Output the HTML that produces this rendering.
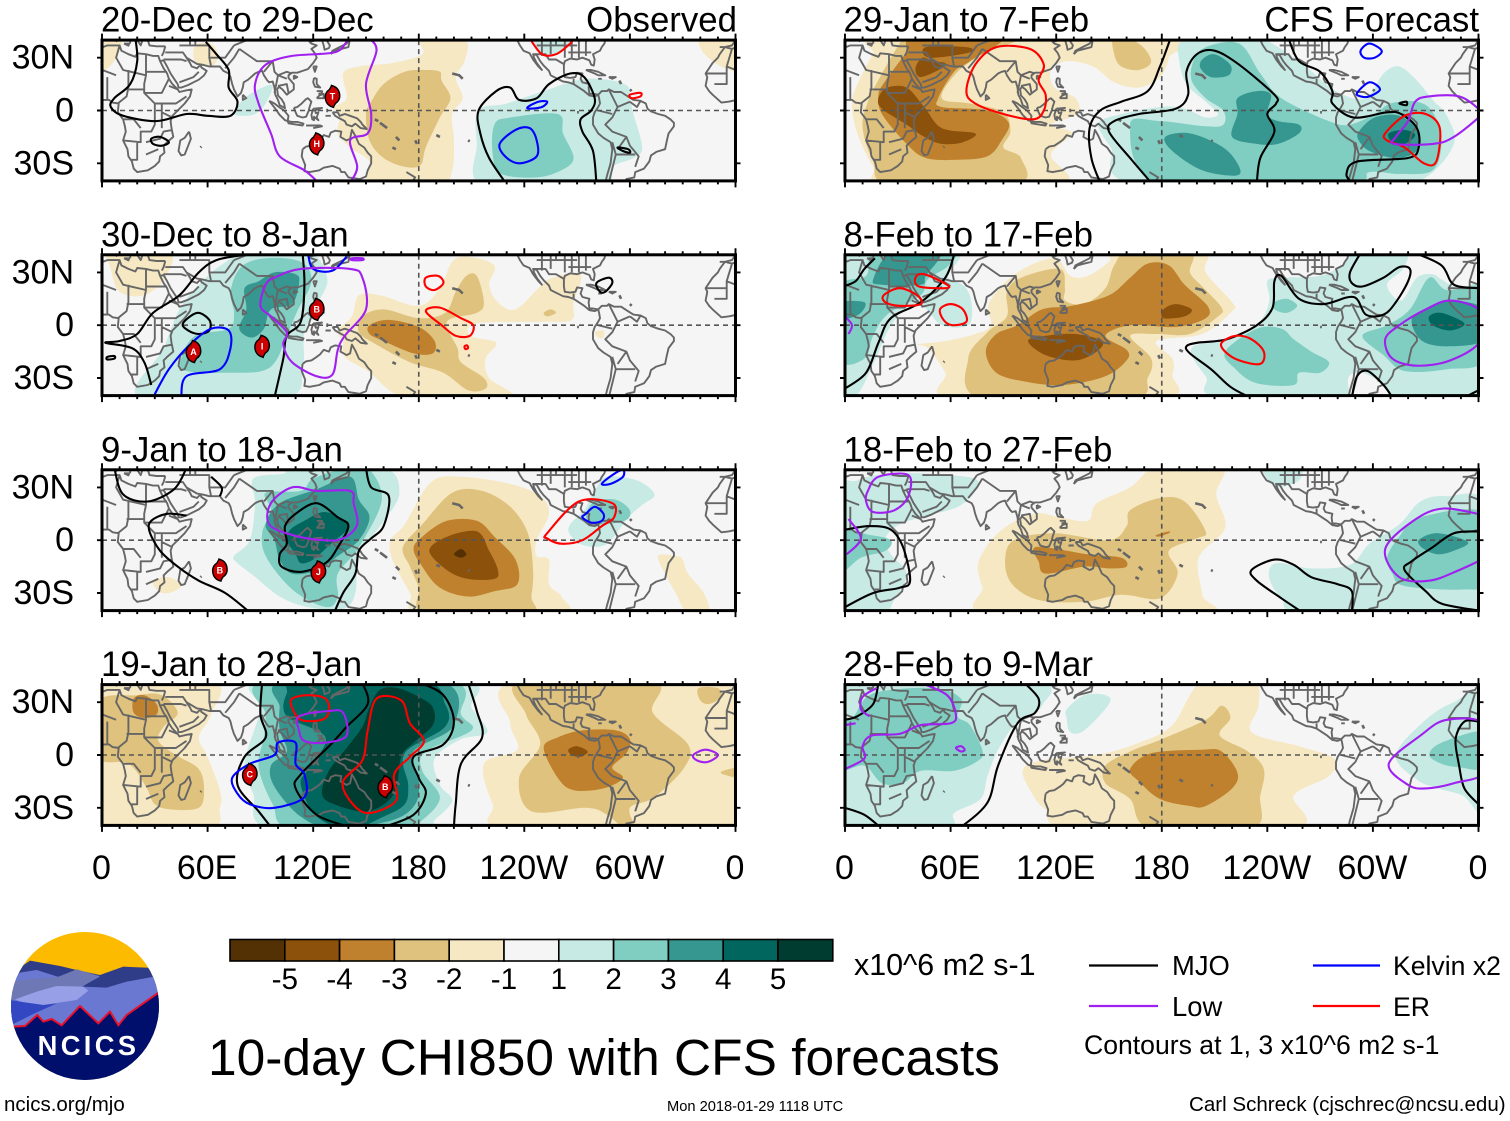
<!DOCTYPE html>
<html lang="en">
<head>
<meta charset="utf-8">
<title>10-day CHI850 with CFS forecasts</title>
<style>
html,body{margin:0;padding:0;background:#fff;}
svg{display:block;font-family:"Liberation Sans",Arial,sans-serif;}
</style>
</head>
<body>
<svg id="chart" xmlns="http://www.w3.org/2000/svg" width="1510" height="1121" viewBox="0 0 1510 1121">
  <rect x="0" y="0" width="1510" height="1121" fill="#ffffff"/>
  <g id="panels"></g>
  <g id="colorbar"></g>
  <text x="854" y="975" font-size="30.4">x10^6 m2 s-1</text>
  <text x="208" y="1075" font-size="51.45">10-day CHI850 with CFS forecasts</text>

  <g>
    <line x1="1089" y1="965.5" x2="1158" y2="965.5" stroke="#000" stroke-width="2.2"/>
    <text x="1172" y="975" font-size="27.4">MJO</text>
    <line x1="1089" y1="1006" x2="1158" y2="1006" stroke="#a020f0" stroke-width="2.2"/>
    <text x="1172" y="1016" font-size="27.4">Low</text>
    <line x1="1313" y1="965.5" x2="1380" y2="965.5" stroke="#0000ff" stroke-width="2.2"/>
    <text x="1393" y="975" font-size="26.6">Kelvin x2</text>
    <line x1="1313" y1="1006" x2="1380" y2="1006" stroke="#ff0000" stroke-width="2.2"/>
    <text x="1393" y="1016" font-size="26.6">ER</text>
    <text x="1084" y="1054" font-size="26.6">Contours at 1, 3 x10^6 m2 s-1</text>
  </g>

  <a><text x="4" y="1111" font-size="20.5">ncics.org/mjo</text></a>
  <text x="667" y="1111" font-size="14.67">Mon 2018-01-29 1118 UTC</text>
  <text x="1189" y="1111" font-size="20.56">Carl Schreck (cjschrec@ncsu.edu)</text>

  <g transform="translate(0,920) scale(0.3333)">
    <defs><clipPath id="logoClip"><circle cx="255" cy="258" r="222"/></clipPath></defs>
    <g clip-path="url(#logoClip)">
      <rect x="20" y="30" width="480" height="460" fill="#fdbb00"/>
      <polygon points="20,170 90,122 180,138 230,150 300,165 370,140 490,145 490,320 20,320" fill="#2f3c88"/>
      <polygon points="20,190 60,158 110,150 180,172 230,148 300,170 245,200 320,203 380,185 490,165 490,500 20,500" fill="#6a78d2"/>
      <polygon points="20,195 60,180 120,175 170,172 230,148 298,168 250,198 150,210 100,225 40,240 20,245" fill="#6e78b4"/>
      <polygon points="45,238 110,215 170,198 250,200 265,212 230,240 130,255 70,248" fill="#97a0e6"/>
      <polygon points="20,238 60,245 130,255 170,250 100,282 40,312 20,320" fill="#3347c2"/>
      <polygon points="20,320 75,318 112,285 130,305 155,297 185,316 240,258 295,310 330,275 355,316 380,285 470,222 500,200 500,500 20,500" fill="#000f6b"/>
      <polyline points="40,320 75,318 112,285 130,305 155,297 185,316 240,258 295,310 330,275 355,316 380,285 470,222 490,205" fill="none" stroke="#e8102a" stroke-width="6"/>
      <text x="113" y="405" font-size="82" font-weight="bold" fill="#ffffff" textLength="295" lengthAdjust="spacing">NCICS</text>
    </g>
  </g>
</svg>
<script>
// ---- Chart values (degrees longitude / latitude, and anomaly levels) ----
const panelTitles = ['20-Dec to 29-Dec','30-Dec to 8-Jan','9-Jan to 18-Jan','19-Jan to 28-Jan','29-Jan to 7-Feb','8-Feb to 17-Feb','18-Feb to 27-Feb','28-Feb to 9-Mar'];
const lonTickValues = [0,60,120,180,240,300,360];
const lonTickLabels = ['0','60E','120E','180','120W','60W','0'];
const latTickValues = [30,0,-30];
const latTickLabels = ['30N','0','30S'];
const colorbarLevels = [-5.5,-4.5,-3.5,-2.5,-1.5,0,1.5,2.5,3.5,4.5,5.5];
const colorbarLabels = ['-5','-4','-3','-2','-1','1','2','3','4','5'];

const p1Fills = [
 [-1,[[182,40],[206,40],[206,28],[201,19],[205,7],[199,-2],[200,-17],[199,-34],[192,-41],[153,-41],[152,-29],[141,-21],[134,-13],[135,-4],[132,2],[139,7],[137,21],[146,25],[165,27],[182,32]]],
 [-1,[[-3,40],[11,40],[8,30],[2,23],[-3,23]]],
 [-1,[[341,42],[341,34],[350,26],[360,22],[364,22],[364,42]]],
 [-1,[[53,37],[62,38],[66,31],[62,25],[53,28]]],
 [-2,[[184,23],[192,22],[193,17],[198,7],[192,-4],[184,-21],[181,-31],[172,-32],[160,-27],[152,-17],[150,-2],[153,5],[160,15],[172,22]]],
 [1,[[214,0],[230,4],[251,11],[275,18],[297,15],[300,7],[302,-2],[307,-21],[302,-27],[290,-32],[283,-43],[217,-43],[213,-19]]],
 [1,[[75,-1],[81,7],[91,13],[97,14],[93,4],[87,-2],[79,-3]]],
 [2,[[223,-8],[232,-4],[259,-2],[262,-13],[268,-27],[261,-34],[247,-38],[227,-36],[222,-25]]],
 [1,[[245,40],[250,33],[258,32],[266,38],[268,42],[245,42]]]
];
const p1Lines = [
 ['M',0,[[59,39],[65,32],[72,23],[72,13],[77,5],[73,-3],[60,-3],[48,-2],[31,-6],[12,-3],[5,2],[7,7],[16,15],[20,28],[19,41]]],
 ['M',1,[[28,-16],[33,-15],[38,-18],[34,-20],[29,-19]]],
 ['M',1,[[293,-21],[299,-22],[300,-24],[296,-23]]],
 ['M',0,[[230,-42],[220,-27],[215,-13],[214,0],[224,11],[232,13],[237,6],[247,7],[254,15],[266,21],[274,19],[280,7],[278,0],[272,-5],[273,-12],[279,-23],[281,-42]]],
 ['L',0,[[123,-41],[115,-34],[101,-26],[96,-13],[89,4],[87,15],[93,26],[108,31],[132,33],[139,39],[141,41]]],
 ['L',0,[[152,41],[156,34],[150,15],[153,-2],[151,-13],[141,-17],[145,-32],[141,-41]]],
 ['K',1,[[226,-19],[235,-11],[243,-10],[247,-17],[247,-26],[237,-30],[229,-26]]],
 ['K',1,[[242,2],[248,5],[253,5],[250,2],[243,1]]],
 ['E',0,[[243,41],[250,32],[258,32],[266,38],[268,41]]],
 ['E',1,[[300,9],[306,10],[306,8],[301,7]]]
];
const p1Storms = [['T',131,8],['H',122,-19]];

const p2Fills = [
 [-1,[[146,17],[158,17],[180,11],[192,21],[199,36],[208,39],[223,34],[220,23],[225,13],[235,9],[249,22],[256,27],[272,29],[268,13],[267,3],[251,2],[213,1],[209,-6],[224,-10],[218,-19],[220,-30],[233,-42],[175,-42],[151,-26],[138,-18],[137,-9],[134,-3],[142,5]]],
 [-1,[[5,42],[38,42],[36,27],[24,17],[10,19],[5,32]]],
 [-1,[[280,-4],[285,-3],[285,-7],[282,-7]]],
 [-2,[[148,5],[160,9],[180,4],[195,7],[201,19],[207,28],[213,28],[217,13],[213,7],[196,2],[202,-13],[204,-21],[217,-30],[218,-36],[208,-37],[194,-27],[175,-21],[156,-11],[146,-4]]],
 [-2,[[251,7],[255,9],[258,7],[253,5]]],
 [-3,[[152,0],[163,3],[180,-1],[189,-9],[188,-16],[177,-16],[160,-9],[152,-5]]],
 [1,[[22,-42],[35,-13],[44,9],[56,24],[69,35],[84,42],[117,42],[128,27],[123,13],[115,-4],[114,-23],[103,-42]]],
 [2,[[73,19],[79,33],[93,38],[113,36],[119,25],[111,8],[105,-6],[99,-20],[91,-26],[74,-27],[48,-26],[45,-19],[53,-6],[72,-2],[75,7]]],
 [3,[[81,21],[89,25],[98,30],[110,29],[112,24],[108,12],[96,9],[92,-2],[85,-7],[78,-2],[82,9]]]
];
const p2Lines = [
 ['M',0,[[114,41],[115,23],[113,2],[105,-6],[103,-19],[98,-41]]],
 ['M',0,[[81,40],[65,37],[55,30],[44,17],[29,7],[20,-5],[10,-9],[2,-10],[17,-13],[24,-21],[28,-34]]],
 ['M',1,[[46,1],[54,7],[61,3],[61,-3],[55,-5],[49,-3]]],
 ['M',1,[[3,-18],[7,-17.5],[7,-19],[3,-19.5]]],
 ['M',1,[[281,24],[288,27],[290,24],[286,19],[283,19]]],
 ['K',0,[[29,-41],[38,-25],[50,-11],[62,-2],[72,-3],[73,-13],[67,-25],[48,-29],[45,-41]]],
 ['K',0,[[117,41],[120,32],[131,31],[139,39]]],
 ['L',1,[[98,27],[113,32],[141,32],[148,27],[150,9],[138,-6],[134,-14],[131,-28],[122,-29],[108,-21],[103,-11],[105,-4],[96,5],[90,11],[93,23]]],
 ['L',1,[[142,38],[148,38],[148,37],[142,37]]],
 ['E',1,[[184,27],[191,28],[194,24],[189,20],[184,22]]],
 ['E',1,[[184,8],[192,10],[204,4],[211,0],[209,-6],[201,-6],[193,0]]],
 ['E',1,[[206,-12],[207.5,-11.5],[208,-13],[206.5,-13.5]]]
];
const p2Storms = [['B',122,9],['I',91,-12],['A',52,-15]];

const p3Fills = [
 [1,[[75,-9],[84,0],[87,21],[86,35],[104,38],[105,42],[158,42],[169,27],[158,8],[146,-8],[144,-30],[137,-39],[117,-38],[101,-32],[86,-20],[77,-13]]],
 [2,[[93,27],[113,28],[120,35],[139,41],[151,41],[159,23],[146,-4],[134,-19],[134,-32],[129,-38],[117,-34],[105,-25],[93,-9],[91,4],[96,17]]],
 [3,[[101,21],[122,29],[141,36],[146,23],[152,13],[146,0],[134,-9],[123,-17],[108,-19],[101,-11],[98,0],[93,9]]],
 [4,[[115,11],[126,16],[137,12],[140,7],[129,-3],[120,-11],[113,-13],[110,-8],[105,0],[107,6]]],
 [1,[[266,9],[274,17],[280,28],[287,36],[304,34],[314,26],[307,20],[299,13],[287,-2],[274,-3],[266,3]]],
 [2,[[280,22],[292,23],[300,17],[297,11],[280,9],[275,14]]],
 [-1,[[164,0],[172,9],[187,33],[204,36],[232,32],[249,25],[254,15],[247,0],[247,-9],[254,-11],[254,-25],[261,-32],[260,-42],[182,-42],[175,-30],[165,-11]]],
 [-2,[[171,-4],[182,9],[199,27],[216,28],[232,19],[242,4],[245,-17],[244,-32],[242,-42],[184,-42],[180,-27],[175,-15]]],
 [-3,[[177,-5],[182,2],[196,11],[213,11],[223,2],[235,-11],[236,-25],[223,-29],[208,-32],[192,-27],[182,-15]]],
 [-4,[[186,-6],[196,2],[213,5],[220,-6],[225,-17],[223,-22],[208,-22],[196,-17]]],
 [-5,[[200,-8],[204,-5],[207,-8],[204,-10]]],
 [-1,[[316,-9],[326,-9],[330,-11],[333,-19],[342,-30],[345,-42],[333,-42],[326,-30],[321,-21]]],
 [-1,[[29,-23],[38,-21],[45,-26],[38,-30],[32,-29]]]
];
const p3Lines = [
 ['M',0,[[84,-41],[70,-30],[55,-23],[43,-15],[33,-6],[27,5],[28,11],[37,15],[48,14]]],
 ['M',0,[[7,41],[12,26],[26,22],[41,29],[48,41]]],
 ['M',0,[[62,36],[68,30],[67,25]]],
 ['M',0,[[150,41],[153,30],[163,25],[160,8],[153,1],[146,-6],[144,-19],[137,-30],[132,-41]]],
 ['M',1,[[110,15],[122,21],[134,13],[140,8],[134,-4],[127,-13],[113,-18],[102,-15],[101,-8],[105,-2],[104,8]]],
 ['L',1,[[96,21],[108,30],[122,28],[141,28],[143,21],[145,9],[137,1],[125,0],[108,3],[95,9]]],
 ['E',1,[[253,4],[271,22],[290,21],[291,13],[284,8],[273,0],[261,-2],[253,1]]],
 ['K',1,[[275,15],[280,19],[285,15],[284,11],[278,10],[273,13]]],
 ['K',1,[[284,32],[290,37],[296,40],[296,36],[289,32]]]
];
const p3Storms = [['B',67,-17],['J',123,-18]];

const p4Fills = [
 [-1,[[-3,42],[63,42],[62,23],[55,10],[60,-1],[67,-20],[67,-30],[60,-42],[-3,-42]]],
 [-2,[[-3,30],[20,34],[34,34],[43,24],[35,16],[32,8],[42,0],[55,-8],[58,-20],[55,-30],[40,-31],[30,-28],[25,-18],[15,-5],[-3,-1]]],
 [-3,[[18,32],[24,34],[31,29],[31,23],[24,21],[18,24]]],
 [-1,[[236,42],[232,18],[236,3],[217,-5],[222,-28],[232,-42],[364,-42],[364,42]]],
 [-2,[[238,42],[241,23],[249,6],[237,-13],[244,-32],[275,-30],[287,-34],[297,-42],[303,-42],[300,-30],[314,-24],[331,-7],[333,6],[313,24],[313,42]]],
 [-2,[[339,38],[350,38],[352,33],[345,29],[340,31]]],
 [-2,[[353,-9],[364,-7],[364,-13],[353,-11]]],
 [-3,[[251,4],[259,10],[273,14],[292,14],[300,9],[298,1],[290,-7],[296,-13],[285,-19],[268,-20],[259,-13]]],
 [-4,[[265,3],[270,5],[276,2],[272,-1],[267,0]]],
 [1,[[81,-5],[90,25],[92,42],[205,42],[210,27],[219,13],[204,9],[189,-2],[192,-17],[199,-26],[189,-37],[182,-42],[96,-42],[86,-22]]],
 [2,[[93,42],[197,42],[204,23],[210,14],[184,2],[182,-9],[192,-24],[182,-37],[170,-42],[108,-42],[97,-28],[89,-7],[92,10],[93,23]]],
 [3,[[101,27],[104,42],[192,42],[200,17],[177,2],[180,-15],[178,-28],[165,-37],[132,-42],[113,-35],[98,-18],[96,-6],[105,2],[101,14]]],
 [4,[[105,35],[113,42],[182,42],[195,29],[195,16],[172,1],[174,-17],[172,-28],[160,-35],[141,-42],[122,-35],[113,-17],[117,-8],[127,10],[105,22]]],
 [5,[[158,37],[168,38],[180,33],[188,27],[188,17],[177,7],[170,-1],[166,-22],[151,-32],[132,-28],[125,-22],[129,-9],[139,4],[148,16],[152,27]]]
];
const p4Lines = [
 ['M',0,[[91,41],[90,23],[93,10],[81,-1],[77,-17],[89,-32],[96,-41]]],
 ['M',0,[[148,41],[151,29],[139,16],[130,6],[113,-11],[110,-19],[122,-34],[141,-41]]],
 ['M',0,[[181,41],[194,34],[200,19],[194,6],[177,-1],[180,-13],[184,-22],[177,-34],[160,-41]]],
 ['M',0,[[208,41],[213,25],[216,10],[204,-5],[201,-28],[200,-41]]],
 ['E',1,[[108,32],[117,34],[127,32],[129,25],[125,20],[113,20],[108,27]]],
 ['L',1,[[112,22],[129,25],[137,24],[139,11],[127,7],[115,8],[112,14]]],
 ['K',1,[[100,7],[110,7],[110,-5],[115,-11],[115,-24],[98,-30],[84,-28],[77,-22],[74,-13],[84,-5],[98,0]]],
 ['E',1,[[156,32],[170,31],[175,18],[183,8],[175,-1],[166,-11],[167,-26],[151,-33],[141,-26],[137,-15],[148,-3],[151,14]]],
 ['L',1,[[336,0],[343,3],[350,0],[344,-4],[338,-3]]]
];
const p4Storms = [['C',84,-11],['B',161,-18]];

const p5Fills = [
 [-1,[[26,42],[184,42],[184,30],[179,19],[167,13],[153,16],[141,25],[126,28],[117,23],[119,13],[131,7],[132,-2],[117,-8],[129,-13],[117,-25],[122,-42],[25,-42],[16,-32],[7,-13],[4,5],[9,19],[16,32]]],
 [-2,[[21,21],[31,38],[35,42],[98,42],[78,32],[63,21],[55,7],[71,4],[90,-1],[94,-12],[90,-21],[100,-27],[97,-42],[26,-42],[16,-29],[10,-10],[13,5]]],
 [-2,[[153,42],[167,38],[174,28],[167,23],[157,25],[153,32]]],
 [-3,[[23,17],[34,32],[40,42],[89,42],[71,28],[62,22],[53,7],[55,2],[81,0],[93,-7],[89,-17],[81,-26],[64,-28],[46,-27],[35,-19],[21,-2],[19,9]]],
 [-4,[[40,24],[44,30],[50,28],[57,27],[55,24],[43,19]]],
 [-4,[[46,36],[69,36],[71,33],[48,30]]],
 [-4,[[19,7],[24,13],[35,13],[45,2],[55,-10],[74,-13],[67,-18],[55,-19],[45,-15],[35,-8],[21,1]]],
 [1,[[191,39],[210,42],[234,42],[258,28],[279,11],[296,7],[306,21],[315,25],[325,17],[334,6],[342,-3],[346,-19],[330,-38],[306,-42],[167,-42],[151,-21],[144,-8],[153,-3],[179,2],[193,1],[205,-4],[212,-2],[205,5],[194,15],[190,28]]],
 [2,[[198,28],[205,36],[224,38],[236,21],[248,7],[275,-6],[287,-8],[301,-2],[310,4],[325,5],[334,-1],[339,-17],[334,-34],[315,-36],[298,-35],[284,-42],[180,-42],[162,-8],[179,-6],[205,-9],[215,-8],[215,0],[205,7],[197,17]]],
 [3,[[203,29],[210,32],[219,26],[218,20],[208,19],[202,24]]],
 [3,[[223,7],[234,11],[242,9],[240,-2],[246,-6],[258,-8],[258,-13],[246,-19],[234,-19],[220,-15],[223,-2]]],
 [3,[[182,-15],[196,-13],[215,-21],[224,-32],[222,-37],[203,-34],[186,-23]]],
 [3,[[292,-12],[301,-4],[315,-3],[326,-12],[325,-23],[313,-27],[298,-23],[292,-17]]],
 [4,[[309,-13],[318,-11],[324,-14],[318,-19],[311,-18]]]
];
const p5Lines = [
 ['M',0,[[185,41],[179,25],[172,11],[157,5],[145,0],[139,-10],[140,-27],[145,-41]]],
 ['M',0,[[174,-41],[162,-27],[150,-12],[153,-6],[167,-2],[188,1],[195,9],[194,22],[200,32],[210,34],[224,26],[244,9],[245,4],[240,-2],[244,-12],[236,-27],[234,-41]]],
 ['M',0,[[252,41],[258,28],[270,22],[277,11],[277,4],[289,-4],[308,-1],[316,-2],[325,-10],[326,-21],[320,-27],[291,-29],[285,-36],[288,-41]]],
 ['M',1,[[315,4],[319,5],[319,3]]],
 ['E',1,[[74,26],[86,36],[105,35],[113,26],[110,17],[114,9],[113,0],[107,-5],[90,-2],[74,4],[69,11]]],
 ['E',1,[[307,-13],[318,-3],[330,-2],[338,-10],[336,-29],[329,-30],[318,-21],[308,-17]]],
 ['L',1,[[313,-15],[320,-6],[324,5],[332,8],[349,8],[360,1],[362,-2],[346,-15],[334,-19],[312,-19]]],
 ['K',1,[[293,34],[298,38],[305,34],[301,30],[295,30]]],
 ['K',1,[[291,10],[298,16],[304,12],[298,8],[293,8]]]
];
const p5Storms = [];

const p6Fills = [
 [-1,[[83,0],[82,13],[98,30],[119,38],[128,28],[138,28],[150,36],[155,42],[203,42],[205,30],[220,13],[220,8],[203,-5],[177,-9],[186,-19],[186,-28],[179,-42],[62,-42],[57,-27],[47,-13],[41,-11],[57,-9],[74,-5]]],
 [-2,[[70,-19],[81,-4],[92,5],[92,19],[100,27],[122,32],[125,21],[125,14],[136,12],[148,21],[153,34],[162,42],[196,42],[196,30],[203,22],[214,10],[212,5],[196,-5],[177,-5],[162,-6],[174,-19],[172,-30],[162,-42],[78,-42]]],
 [-3,[[80,-15],[86,-5],[98,0],[112,9],[129,11],[150,17],[162,27],[172,35],[184,34],[193,23],[206,11],[205,4],[188,-1],[162,0],[148,-6],[160,-14],[160,-20],[148,-29],[124,-34],[102,-32],[86,-27]]],
 [-4,[[104,-9],[114,-6],[131,-5],[146,-9],[143,-15],[131,-20],[114,-17]]],
 [-4,[[181,9],[188,12],[197,9],[193,5],[181,4]]],
 [1,[[-3,42],[62,42],[58,28],[68,22],[72,12],[70,0],[55,0],[45,10],[35,10],[25,-2],[17,-20],[8,-38],[0,-42],[-3,-42]]],
 [2,[[-3,21],[12,28],[18,42],[60,42],[59,34],[47,26],[43,17],[24,6],[16,-6],[11,-19],[-3,-19]]],
 [3,[[16,26],[27,42],[54,42],[46,28],[43,23],[21,23]]],
 [3,[[-3,13],[11,13],[9,7],[2,4],[-3,6]]],
 [1,[[197,-13],[217,-8],[234,0],[241,13],[240,25],[248,27],[270,28],[282,34],[291,42],[318,42],[317,32],[308,23],[316,14],[325,27],[334,29],[339,26],[349,21],[360,25],[364,25],[364,-42],[220,-42],[205,-29]]],
 [0,[[286,-30],[294,-27],[306,-34],[310,-42],[290,-42]]],
 [2,[[244,13],[251,15],[257,11],[251,7],[244,9]]],
 [2,[[216,-15],[234,-2],[248,-2],[255,-8],[265,-15],[275,-21],[270,-27],[258,-27],[255,-34],[234,-33],[222,-25]]],
 [2,[[294,-6],[308,0],[321,9],[332,27],[342,20],[364,20],[364,-19],[342,-25],[318,-26],[306,-17]]],
 [3,[[322,3],[330,9],[344,14],[364,9],[364,-8],[344,-12],[328,-9]]],
 [4,[[332,5],[339,7],[352,1],[344,-3],[334,0]]]
];
const p6Lines = [
 ['M',0,[[62,40],[57,27],[43,13],[26,4],[19,-10],[12,-27],[0,-36]]],
 ['M',0,[[-1,22],[6,25],[11,32],[17,38]]],
 ['M',0,[[362,-36],[352,-41]]],
 ['M',0,[[230,-41],[219,-35],[208,-25],[196,-16],[194,-12],[200,-10],[217,-8],[234,0],[243,10],[244,25],[248,28],[258,15],[272,12],[289,16],[296,6],[306,6],[313,13],[320,25],[321,32],[315,33],[306,27],[294,22],[288,24],[287,30],[293,41]]],
 ['M',0,[[324,41],[339,34],[346,23],[360,21]]],
 ['M',0,[[288,-41],[291,-29],[297,-26],[306,-34],[311,-41]]],
 ['E',1,[[22,17],[31,21],[41,17],[43,12],[31,11],[23,13]]],
 ['E',1,[[40,27],[45,29],[58,23],[57,21],[42,22]]],
 ['E',1,[[54,9],[60,12],[67,9],[69,2],[61,0],[56,3]]],
 ['E',1,[[214,-10],[222,-6],[231,-8],[238,-15],[236,-22],[224,-20],[216,-15]]],
 ['L',1,[[307,-8],[315,0],[330,9],[344,14],[361,8],[361,-9],[344,-20],[325,-23],[311,-19]]],
 ['L',0,[[0,5],[4,0],[2,-5]]]
];
const p6Storms = [];

const p7Fills = [
 [-1,[[76,-12],[88,5],[107,15],[122,13],[138,11],[143,21],[162,30],[178,42],[214,42],[211,26],[216,7],[201,-10],[203,-31],[203,-42],[83,-42],[78,-27]]],
 [-2,[[91,-12],[96,0],[119,4],[150,0],[160,8],[162,17],[179,24],[193,22],[205,5],[200,1],[184,-6],[189,-19],[179,-33],[157,-31],[136,-35],[110,-34],[95,-25]]],
 [-3,[[107,-5],[114,-4],[138,-8],[157,-10],[160,-15],[150,-16],[136,-15],[114,-19],[110,-12]]],
 [-3,[[177,3],[184,5],[184,4],[178,2]]],
 [1,[[-3,26],[7,34],[26,38],[60,37],[76,33],[66,20],[47,14],[31,9],[23,1],[26,-8],[35,-19],[28,-34],[21,-42],[-3,-42]]],
 [2,[[-3,5],[14,3],[26,0],[23,-6],[9,-10],[-3,-18]]],
 [1,[[238,42],[258,42],[258,34],[246,30],[240,35]]],
 [1,[[241,-21],[245,-13],[265,-16],[287,-14],[298,-2],[315,9],[327,22],[342,25],[364,20],[364,-42],[263,-42],[248,-33]]],
 [2,[[308,-10],[315,2],[327,13],[364,15],[364,-23],[351,-28],[318,-26],[311,-19]]],
 [3,[[326,0],[337,4],[354,-1],[346,-6],[337,-8],[329,-5]]]
];
const p7Lines = [
 ['M',0,[[0,6],[14,8],[26,6],[33,-4],[37,-23],[31,-27],[16,-30],[0,-38]]],
 ['M',0,[[260,-41],[248,-33],[234,-23],[231,-17],[244,-11],[255,-14],[265,-21],[280,-25],[288,-29],[288,-41]]],
 ['M',0,[[360,5],[346,4],[334,-4],[322,-12],[318,-17],[330,-29],[339,-36],[360,-40]]],
 ['L',1,[[13,28],[19,36],[36,37],[36,25],[28,17],[16,16],[12,22]]],
 ['L',0,[[2,12],[9,1],[1,-8]]],
 ['L',0,[[364,14],[340,18],[323,11],[307,-5],[315,-21],[332,-23],[349,-17],[364,-10]]]
];
const p7Storms = [];

const p8Fills = [
 [1,[[-3,42],[107,42],[112,28],[98,19],[87,3],[81,-12],[77,-25],[62,-33],[57,-42],[-3,-42]]],
 [2,[[-3,15],[5,22],[16,35],[50,38],[66,32],[64,22],[71,17],[78,3],[76,-3],[62,-9],[43,-9],[33,-16],[21,-16],[11,-6],[-3,-8]]],
 [1,[[126,26],[136,34],[148,34],[150,29],[136,14],[128,13],[126,21]]],
 [1,[[313,0],[330,20],[346,30],[364,34],[364,-31],[351,-23],[337,-19],[325,-14]]],
 [2,[[332,0],[339,7],[364,13],[364,-7],[349,-7],[339,-5]]],
 [-1,[[101,-9],[112,-3],[143,0],[167,7],[186,17],[203,42],[232,42],[235,28],[231,13],[258,5],[278,-2],[275,-12],[255,-23],[254,-42],[131,-42],[114,-31],[107,-23]]],
 [-2,[[148,-6],[162,2],[180,9],[205,20],[214,28],[219,21],[213,11],[229,2],[238,-8],[236,-23],[231,-42],[174,-42],[162,-25],[148,-16]]],
 [-3,[[162,-8],[174,1],[203,3],[214,2],[223,-10],[220,-19],[205,-29],[196,-29],[179,-25],[167,-15]]]
];
const p8Lines = [
 ['M',0,[[19,41],[16,29],[7,22],[0,20]]],
 ['M',0,[[102,41],[110,32],[108,24],[98,18],[87,-6],[81,-27],[66,-41]]],
 ['M',0,[[0,-30],[11,-34],[20,-41]]],
 ['M',0,[[360,19],[352,19],[347,9],[349,-6],[352,-19],[360,-28]]],
 ['L',0,[[43,41],[58,34],[63,23],[60,18],[43,17],[31,12],[15,11],[10,5],[11,-2],[0,-8]]],
 ['L',0,[[18,38],[10,33],[9,26],[14,22]]],
 ['L',0,[[0,17],[6,18]]],
 ['L',1,[[63,4],[66,5],[68,3],[66,2]]],
 ['L',1,[[309,-5],[327,11],[342,20],[364,17],[364,-9],[346,-16],[330,-19],[320,-17]]]
];
const p8Storms = [];

const panelFills = [p1Fills,p2Fills,p3Fills,p4Fills,p5Fills,p6Fills,p7Fills,p8Fills];
const panelLines = [p1Lines,p2Lines,p3Lines,p4Lines,p5Lines,p6Lines,p7Lines,p8Lines];
const panelStorms = [p1Storms,p2Storms,p3Storms,p4Storms,p5Storms,p6Storms,p7Storms,p8Storms];

// Coastlines and political borders, [lon,lat]
const coastLines = [
 [[-6,36],[-2,35],[3,37],[10,37],[11,34],[15,32],[19,30.5],[20,32.5],[25,32],[29,31],[32,31],[33,28],[35,24],[37,21],[38,18],[40,15],[43,12],[44,10.5],[48,11.5],[51,12],[50,8],[47,4],[43,0],[40,-3],[39,-6],[39.5,-10],[40.5,-15],[37,-18],[35,-20],[35.5,-24],[33,-26],[32.5,-29],[30,-31.5],[26,-34],[20,-35],[18,-33],[17,-29],[15,-26],[14.5,-22],[12,-17],[13.5,-12],[13,-9],[12,-5],[9,-1],[9.5,4],[6,4.5],[4,6],[1,6],[-4,5],[-8,4.5],[-13,9],[-15,11],[-17,14],[-16,19],[-17,21],[-13,27],[-10,30],[-9,32],[-6,36]],
 [[49.5,-12],[50.5,-16],[49,-20],[47,-25],[45,-25.5],[43.5,-23],[44.5,-17],[47,-15.5],[49.5,-12]],
 [[33,28],[35,28.5],[37,25],[39,21],[41,18],[43,15],[43.5,13],[45,13],[49,14.5],[52,16],[55,17.5],[58,20],[59.5,22.5],[56.5,24.5],[56,26],[54,24],[51,25],[50,27],[48,30]],
 [[36,36.5],[35,33],[34,31]],[[36,36.5],[31,36.5],[27,37],[26,40],[23,40],[22,37],[20,40]],[[16,38],[16,40],[18,40]],[[8,39],[9,41]],[[12.5,38],[15.5,38],[15,36.8],[12.5,38]],
 [[48,30],[50.5,28.5],[54,26.5],[57,26],[61,25],[67,25],[69,22.5],[72,21],[73,19],[74,15],[75,12],[77,8],[79,10],[80,13],[80.5,16],[83,17.5],[87,21],[89,22],[91,22.5],[92,20],[94,17],[95,16],[97,16.5],[98,13],[98.5,9],[100,6],[101,3],[104,1.3],[103.5,4],[102,6.5],[100,8.5],[99.5,12],[100.5,13.5],[102.5,12],[105,9],[107,10.5],[109,12],[109,15],[106,18.5],[106,20],[108,21.5],[111,21.5],[114,22.5],[117,23.5],[120,27],[122,30],[121,32.5],[119,35],[122,37],[119,38],[118,39],[122,40],[125,40],[126,37],[126.5,34.5],[129,35.5],[129.5,37],[127.5,40],[129,41]],
 [[130,32],[132,34],[136,35],[140,36],[141,41],[139,38],[135,36],[131,34],[130,32]],
 [[80,9],[82,7],[80,6],[80,9]],
 [[95,5.5],[98,4],[100.5,2],[103.5,0],[106,-3],[105.5,-6],[104,-5.5],[101,-2.5],[98.5,1],[95,5.5]],
 [[105.5,-6],[108,-6.5],[111,-6.5],[114.5,-7.5],[114,-8.5],[109,-7.8],[106,-7.3],[105.5,-6]],
 [[109,1.5],[111,2],[113,3.5],[116,6.5],[117,7],[119,5],[118,2],[117.5,0],[116,-3.5],[114,-4],[111,-3],[110,-1],[109,1.5]],
 [[120,1],[125,1.5],[121,0],[121.5,-1.5],[123,-1],[122,-4],[123,-5.5],[120.5,-3.5],[120.5,-5.5],[119.5,-5],[119,-2.5],[120,1]],
 [[131,-1],[134,-1],[135,-3],[138,-2],[141,-3],[145,-4.5],[147,-6.5],[148,-8],[150.5,-10.5],[147,-10],[144,-7.5],[142,-9],[139,-8],[138,-6],[135,-4.5],[132.5,-3],[131,-1]],
 [[120.5,18.5],[122,18],[122,15],[124,13],[121,13.5],[120,16],[120.5,18.5]],
 [[122,7],[126,7],[126,9.5],[123.5,8.5],[122,7]],[[122,11],[125,11],[125,10],[123,9.5]],
 [[120,25],[122,25],[121,22],[120,25]],[[109,20],[111,19],[109,18],[109,20]],
 [[116,-8.5],[119,-8.5],[124,-8.5],[125,-9],[120,-10]],[[127,-3],[130,-3]],[[128,1],[128,-1]],
 [[114,-22],[116,-20.5],[119,-20],[122,-18],[124,-16.5],[126,-14],[129,-15],[130,-12.5],[132.5,-11.5],[136,-12],[135.5,-15],[139,-17],[141,-16],[142,-11],[144,-14.5],[146,-19],[149,-21],[151,-24],[153,-26],[153,-30],[151,-34],[150,-37.5],[146.5,-39],[143.5,-38.5],[140,-38],[138,-35],[136,-35],[135,-33],[131,-31.5],[126,-32.5],[123.5,-34],[118,-35],[115,-34.5],[115.5,-31],[113.5,-26],[114,-22]],
 [[145,-41],[147,-40],[148,-42]],
 [[173,-35],[178,-38],[175,-42]],[[171,-42],[174,-41]],
 [[235.5,41],[237.5,37],[239.5,34],[243,32.5],[245,29],[248,25],[250,23],[247,27],[245.5,30],[245,32],[247,31.5],[249,28],[251,25.5],[254,22.5],[255,20],[257,19],[262,16.5],[265,16],[268,15],[271,13],[274,11],[277,8.5],[280,8],[282,9],[279,9.5],[277,9.5],[276.5,13],[277,15],[273,16],[272,18],[273,21],[270,21.5],[269,19],[266,18.5],[263,19],[262.5,22],[262.5,26],[263,28],[266,29.5],[270,29],[273,30],[277,28.5],[278,26],[279.5,25.5],[280,29],[279,32],[283,34],[284,36],[285.5,38],[286,40],[286.5,41]],
 [[245,32],[252,32],[254,29],[258,29],[263,26]],[[247,37],[265,37],[270,37]],[[250,41],[250,31]],[[255,41],[255,32]],[[258,37],[258,41]],[[263,41],[263,30]],[[267,41],[267,30]],[[271,41],[271,30]],[[247,41],[262,41]],[[265,33],[278,33]],[[275,41],[275,31]],[[268,18],[268,15]],
 [[275,23],[278,23],[282,22],[286,20],[282,20],[280,21],[275,23]],
 [[288,19],[292,19],[290,18],[288,19]],[[282,18],[284,18]],
 [[282,9],[284,11],[287,11],[288,12],[291,10.5],[295,10.5],[298,8.5],[302,6],[306,5.5],[309,4],[310,1],[312,-0.5],[316,-2],[320,-3],[323,-5],[325,-7],[325,-9],[322,-13],[321,-17],[320,-22],[315,-23.5],[312,-25.5],[311,-29],[308,-33],[303,-35],[302.5,-38],[298,-39],[297,-41]],
 [[286,-41],[287,-37],[289,-30],[290,-22],[289,-18],[285,-15.5],[282,-13],[279,-8],[279,-4],[280,-1],[282,2],[283,4],[282.5,7],[282,9]],
 [[300,5],[293,2],[290,-4],[286,-8],[290,-12],[298,-15],[300,-20],[305,-26],[303,-32]],
 [[282,0],[290,-2]],[[290,-18],[292,-25],[288,-41]],[[292,-25],[303,-25]],[[288,12],[293,2]],[[298,-15],[293,-22]],[[306,5.5],[304,2],[300,5]],
 [[351,36],[354,36],[358,37],[360,40],[362,41]],
 [[10,37],[8,30],[12,23],[25,20]],[[-2,35],[-5,25],[8,20]],
 [[25,32],[25,20],[24,15],[24,10],[34,10],[36,14],[38,18]],[[25,22],[37,22]],
 [[15,23],[15,13],[14,8],[9,4]],[[3,19],[3,12],[3,6]],[[-5,25],[-5,15],[-12,15]],[[-17,21],[-5,21]],[[14,12],[24,12]],
 [[24,10],[30,4],[34,4],[42,4],[48,8]],[[30,4],[30,-8],[28,-12],[22,-12],[22,-18],[12,-17]],[[12,-5],[18,-5],[22,-10]],[[34,-1],[40,-4]],[[34,4],[34,-10]],[[25,-18],[33,-16],[35,-12],[40,-11]],[[20,-18],[20,-28],[16,-28]],[[25,-25],[32,-22]],[[38,14],[43,12]],
 [[35,29],[45,29],[48,28]],[[44,16],[52,19],[55,22]],[[36,33],[46,33],[48,30]],[[44,37],[61,37],[61,30],[62,25]],[[61,30],[70,30],[75,37]],[[50,37],[53,37],[53,41]],[[50,37],[50,41]],
 [[70,24],[75,30],[78,35]],[[78,35],[88,28],[97,28],[92,22]],[[97,28],[98,22],[100,20],[98,10]],[[100,20],[105,22],[108,21]],[[100,14],[105,15],[106,10]],[[75,37],[85,41]],[[100,20],[105,18]]
];
const islandLines = [
 [[199,21],[203,20],[205,18]],[[178,-17],[179,-19]],[[167,-15],[169,-17]],[[165,-21],[167,-22]],[[158,-7],[162,-10]],[[155,-5],[157,-6]],[[190,-14],[192,-15]],[[208,-17],[209,-17.5]],[[270,-1],[271,-1]],[[56,-21],[56.5,-20.5]],[[294,17],[295,15]],[[300,12],[301,11]]
];

// ---- Layout & scales ----
const levelColors = {'-5':'#543005','-4':'#8c510a','-3':'#bf812d','-2':'#dfc27d','-1':'#f6e8c3','0':'#f5f5f5','1':'#c7eae5','2':'#80cdc1','3':'#35978f','4':'#01665e','5':'#003c30'};
const lineColors = {M:'#000000',L:'#a020f0',K:'#0000ff',E:'#ff0000'};
const lineNames = {M:'mjo',L:'low',K:'kelvin',E:'er'};
const columnLeft = [102,845];
const rowEquator = [110.5,325.2,540.2,755];
const lonPx = 633.5/360, latPx = 1.76;
const NS = 'http://www.w3.org/2000/svg';

function xScale(col,lon){return columnLeft[col]+lon*lonPx;}
function yScale(row,lat){return rowEquator[row]-lat*latPx;}
function svgEl(tag,parent){const e=document.createElementNS(NS,tag);parent.appendChild(e);return e;}
function smoothPath(pts,closed){
  const n=pts.length;
  if(n<3) return 'M'+pts.map(p=>p[0].toFixed(1)+' '+p[1].toFixed(1)).join('L');
  const get=i=>closed?pts[(i+n)%n]:pts[Math.max(0,Math.min(n-1,i))];
  let d='M'+pts[0][0].toFixed(1)+' '+pts[0][1].toFixed(1);
  const segs=closed?n:n-1;
  for(let i=0;i<segs;i++){
    const p0=get(i-1),p1=get(i),p2=get(i+1),p3=get(i+2);
    const c1x=p1[0]+(p2[0]-p0[0])/6,c1y=p1[1]+(p2[1]-p0[1])/6;
    const c2x=p2[0]-(p3[0]-p1[0])/6,c2y=p2[1]-(p3[1]-p1[1])/6;
    d+='C'+c1x.toFixed(1)+' '+c1y.toFixed(1)+' '+c2x.toFixed(1)+' '+c2y.toFixed(1)+' '+p2[0].toFixed(1)+' '+p2[1].toFixed(1);
  }
  return d+(closed?'Z':'');
}

const panelsRoot=document.getElementById('panels');
const STORM_SHAPE='M-1,-11 C3,-10 6,-8 7,-3 C8,2 6,5 3,7 C2,9 1,10 1,11 C-3,10 -6,8 -7,3 C-8,-2 -6,-5 -3,-7 C-2,-9 -1,-10 -1,-11Z';

panelTitles.forEach((title,i)=>{
  const col=i<4?0:1, row=i%4;
  const X=l=>xScale(col,l), Y=l=>yScale(row,l);
  const g=svgEl('g',panelsRoot);
  
  

  const defs=svgEl('defs',g);
  const cp=svgEl('clipPath',defs);
  cp.setAttribute('id','clip'+i);
  const cr=svgEl('rect',cp);
  cr.setAttribute('x',X(0));cr.setAttribute('y',Y(40));
  cr.setAttribute('width',X(360)-X(0));cr.setAttribute('height',Y(-40)-Y(40));

  const bg=svgEl('rect',g);
  
  
  bg.setAttribute('x',X(0));bg.setAttribute('y',Y(40));
  bg.setAttribute('width',X(360)-X(0));bg.setAttribute('height',Y(-40)-Y(40));
  bg.setAttribute('fill',levelColors['0']);

  const map=svgEl('g',g);
  
  
  map.setAttribute('clip-path','url(#clip'+i+')');

  panelFills[i].forEach(f=>{
    const p=svgEl('path',map);
    
    
    p.setAttribute('d',smoothPath(f[1].map(q=>[X(q[0]),Y(q[1])]),true));
    p.setAttribute('fill',levelColors[String(f[0])]);
  });

  let coastD='';
  [0,360].forEach(shift=>{
    coastLines.forEach(line=>{
      coastD+='M'+line.map(q=>X(q[0]+shift).toFixed(1)+' '+Y(q[1]).toFixed(1)).join('L');
    });
  });
  const coast=svgEl('path',map);
  
  
  coast.setAttribute('d',coastD);
  coast.setAttribute('fill','none');
  coast.setAttribute('stroke','#666666');
  coast.setAttribute('stroke-width','1.9');
  coast.setAttribute('stroke-linejoin','round');

  let islD='';
  islandLines.forEach(line=>{islD+='M'+line.map(q=>X(q[0]).toFixed(1)+' '+Y(q[1]).toFixed(1)).join('L');});
  const isl=svgEl('path',map);
  
  
  isl.setAttribute('d',islD);
  isl.setAttribute('fill','none');
  isl.setAttribute('stroke','#666666');
  isl.setAttribute('stroke-width','2.6');

  const eq=svgEl('line',map);
  
  
  eq.setAttribute('x1',X(0));eq.setAttribute('x2',X(360));eq.setAttribute('y1',Y(0));eq.setAttribute('y2',Y(0));
  eq.setAttribute('stroke','#555555');eq.setAttribute('stroke-width','1.6');eq.setAttribute('stroke-dasharray','5 4');
  const dl=svgEl('line',map);
  
  
  dl.setAttribute('x1',X(180));dl.setAttribute('x2',X(180));dl.setAttribute('y1',Y(40));dl.setAttribute('y2',Y(-40));
  dl.setAttribute('stroke','#555555');dl.setAttribute('stroke-width','1.6');dl.setAttribute('stroke-dasharray','5 4');

  panelLines[i].forEach(l=>{
    const p=svgEl('path',map);
    
    
    p.setAttribute('d',smoothPath(l[2].map(q=>[X(q[0]),Y(q[1])]),!!l[1]));
    p.setAttribute('fill','none');
    p.setAttribute('stroke',lineColors[l[0]]);
    p.setAttribute('stroke-width','2.1');
  });

  panelStorms[i].forEach(s=>{
    const sg=svgEl('g',map);
    
    
    sg.setAttribute('transform','translate('+X(s[1]).toFixed(1)+','+Y(s[2]).toFixed(1)+')');
    const sp=svgEl('path',sg);
    
    
    sp.setAttribute('d',STORM_SHAPE);
    sp.setAttribute('fill','#cc0000');
    sp.setAttribute('stroke','#000000');
    sp.setAttribute('stroke-width','1.4');
    const st=svgEl('text',sg);
    
    
    st.setAttribute('x','0');st.setAttribute('y','3.2');
    st.setAttribute('text-anchor','middle');
    st.setAttribute('font-size','9');st.setAttribute('font-weight','bold');
    st.setAttribute('fill','#ffffff');
    st.textContent=s[0];
  });

  const frame=svgEl('rect',g);
  
  
  frame.setAttribute('x',X(0));frame.setAttribute('y',Y(40));
  frame.setAttribute('width',X(360)-X(0));frame.setAttribute('height',Y(-40)-Y(40));
  frame.setAttribute('fill','none');frame.setAttribute('stroke','#000000');frame.setAttribute('stroke-width','3');

  let tickD='';
  for(let lon=0;lon<=360;lon+=10){
    const len=lon%60===0?6.5:3.5;
    tickD+='M'+X(lon).toFixed(1)+' '+Y(40).toFixed(1)+'v'+(-len)+'M'+X(lon).toFixed(1)+' '+Y(-40).toFixed(1)+'v'+len;
  }
  latTickValues.forEach(lat=>{
    tickD+='M'+X(0).toFixed(1)+' '+Y(lat).toFixed(1)+'h-5M'+X(360).toFixed(1)+' '+Y(lat).toFixed(1)+'h5';
  });
  const ticks=svgEl('path',g);
  
  
  ticks.setAttribute('d',tickD);
  ticks.setAttribute('stroke','#000000');
  ticks.setAttribute('stroke-width','1.9');
  ticks.setAttribute('fill','none');

  const t=svgEl('text',g);
  
  
  t.setAttribute('x',col===0?X(0)-1:X(0)-1.5);t.setAttribute('y',Y(40)-8.5);
  t.setAttribute('font-size','34.8');
  t.textContent=title;

  if(col===0){
    latTickValues.forEach((lat,k)=>{
      const lb=svgEl('text',g);
      
      
      lb.setAttribute('x','74');lb.setAttribute('y',Y(lat)+11);
      lb.setAttribute('font-size','34');lb.setAttribute('text-anchor','end');
      lb.textContent=latTickLabels[k];
    });
  }
  if(row===3){
    lonTickValues.forEach((lon,k)=>{
      const lb=svgEl('text',g);
      
      
      lb.setAttribute('x',X(lon)-0.5);lb.setAttribute('y','879');
      lb.setAttribute('font-size','34');lb.setAttribute('text-anchor','middle');
      lb.textContent=lonTickLabels[k];
    });
  }
});

const tagLeft=svgEl('text',panelsRoot);


tagLeft.setAttribute('x','737');tagLeft.setAttribute('y','31.5');
tagLeft.setAttribute('font-size','34.8');tagLeft.setAttribute('text-anchor','end');
tagLeft.textContent='Observed';
const tagRight=svgEl('text',panelsRoot);


tagRight.setAttribute('x','1479');tagRight.setAttribute('y','31.5');
tagRight.setAttribute('font-size','34.8');tagRight.setAttribute('text-anchor','end');
tagRight.textContent='CFS Forecast';

// Colorbar
const cb=document.getElementById('colorbar');
const cbLeft=230,cbBox=54.8,cbTop=939.5,cbH=21.5;
const colorKeys=['-5','-4','-3','-2','-1','0','1','2','3','4','5'];
colorbarLevels.forEach((v,i)=>{
  const r=svgEl('rect',cb);
  
  
  r.setAttribute('x',cbLeft+i*cbBox);r.setAttribute('y',cbTop);
  r.setAttribute('width',cbBox);r.setAttribute('height',cbH);
  r.setAttribute('fill',levelColors[colorKeys[i]]);
  r.setAttribute('stroke','#000000');r.setAttribute('stroke-width','1.6');
});
colorbarLabels.forEach((lab,i)=>{
  const tx=svgEl('text',cb);
  
  
  tx.setAttribute('x',cbLeft+(i+1)*cbBox);tx.setAttribute('y','989');
  tx.setAttribute('font-size','29.7');tx.setAttribute('text-anchor','middle');
  tx.textContent=lab;
});
</script>
</body>
</html>
